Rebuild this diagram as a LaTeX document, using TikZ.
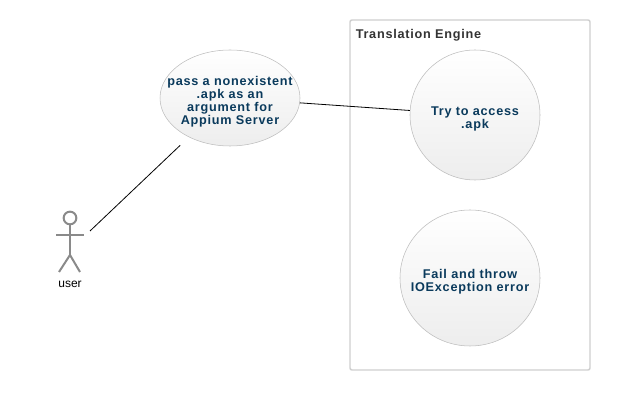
\documentclass[tikz,border=0pt]{standalone}
\usepackage{fontspec}
\setmainfont{Liberation Sans}
\newfontfamily\spacedbold[LetterSpace=6,BoldFont={Liberation Sans Bold}]{Liberation Sans Bold}
\usetikzlibrary{shapes.geometric}
\definecolor{casetext}{HTML}{0A3A5C}
\definecolor{caseline}{HTML}{BDBDBD}
\definecolor{framegray}{HTML}{CFCFCF}
\definecolor{actorgray}{HTML}{8A8A8A}

\begin{document}
\begin{tikzpicture}[
    x=0.75pt, y=-0.75pt,
    usecase/.style={draw=caseline, ellipse, inner xsep=-11pt, inner ysep=0pt, align=center, top color=white, bottom color=black!7,
      text=casetext, font=\spacedbold\fontsize{9.5}{9.75}\selectfont},
    frame/.style={draw=framegray, line width=1.1pt, rounded corners=1.5pt, fill=white},
    actorline/.style={draw=actorgray, line width=1.5pt},
    link/.style={draw=black, line width=0.6pt}
  ]
    \useasboundingbox (0,0) rectangle (640,420);
    \node[frame, minimum width=180pt, minimum height=262.5pt, inner sep=0pt] (engine) at (470,195) {};
    \node[anchor=west, inner sep=0pt, text=black!80, font=\spacedbold\fontsize{9.5}{9.75}\selectfont] (enginetitle) at (355.5,35) {Translation Engine};

    \node[usecase, text height=41pt, minimum width=105pt, minimum height=72pt] (pass) at (230,98) {pass a nonexistent\\.apk as an\\argument for\\Appium Server};
    \node[usecase, text height=21.5pt, minimum width=97.5pt, minimum height=97.5pt] (access) at (475,115) {Try to access\\.apk};
    \node[usecase, text height=21.5pt, minimum width=105pt, minimum height=102pt] (fail) at (470,278) {Fail and throw\\IOException error};

    % stick figure
    \node[circle, actorline, minimum size=9.5pt, inner sep=0pt] (head) at (70,218) {};
    \coordinate (neck) at (70,235);
    \coordinate (hip) at (70,255);
    \coordinate (handl) at (56,235);
    \coordinate (handr) at (84,235);
    \coordinate (footl) at (59,272);
    \coordinate (footr) at (80,272);
    \draw[actorline] (head) -- (hip);
    \draw[actorline] (handl) -- (handr);
    \draw[actorline] (footl) -- (hip) -- (footr);
    \node[inner sep=0pt, font=\fontsize{9}{10}\selectfont] (user) at (70,284) {user};

    \coordinate (userend) at (90,231);
    \draw[link, shorten >=9pt] (userend) -- (pass);
    \draw[link] (pass) -- (access);
  \end{tikzpicture}
\end{document}
